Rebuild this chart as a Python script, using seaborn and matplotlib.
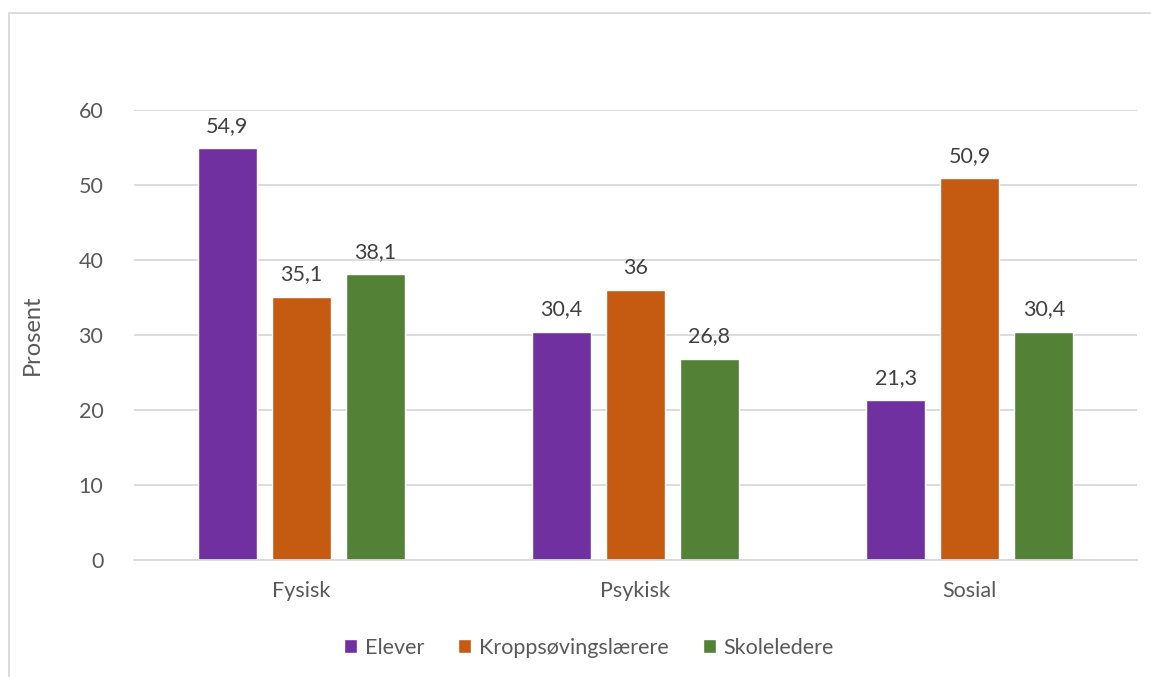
import matplotlib
matplotlib.use("Agg")
import matplotlib.pyplot as plt
from matplotlib.patches import Rectangle
import seaborn as sns
import pandas as pd

categories = ["Fysisk", "Psykisk", "Sosial"]
groups = ["Elever", "Kroppsøvingslærere", "Skoleledere"]
elever = [54.9, 30.4, 21.3]
kroppsovingslaerere = [35.1, 36.0, 50.9]
skoleledere = [38.1, 26.8, 30.4]
yticks = [0, 10, 20, 30, 40, 50, 60]
colors = ["#7030A0", "#C55A11", "#538135"]

rows = []
for g, vals in zip(groups, [elever, kroppsovingslaerere, skoleledere]):
    for c, v in zip(categories, vals):
        rows.append({"Kategori": c, "Gruppe": g, "Prosent": v})
df = pd.DataFrame(rows)

sns.set_theme(style="white")
plt.rcParams['font.family'] = ['Lato', 'DejaVu Sans']

FS = 15.5

fig = plt.figure(figsize=(11.51, 6.77), dpi=100)
ax = fig.add_axes([134/1151, 1-560/677, (1137-134)/1151, 450/677])

sns.barplot(data=df, x="Kategori", y="Prosent", hue="Gruppe",
            order=categories, hue_order=groups, palette=colors,
            width=0.664, gap=0.203, saturation=1, ax=ax, legend=True)

for cont, g in zip(ax.containers, groups):
    labels = [f"{v:g}".replace('.', ',') for v in cont.datavalues]
    ax.bar_label(cont, labels=labels, padding=9, fontsize=FS, color="#404040")

ax.set_ylim(0, 60)
ax.set_yticks(yticks)
ax.set_yticklabels([str(t) for t in yticks])
ax.yaxis.grid(True, color="#D9D9D9", linewidth=1.3)
ax.set_axisbelow(True)
for s in ["top", "right", "left"]:
    ax.spines[s].set_visible(False)
ax.spines["bottom"].set_color("#D9D9D9")
ax.spines["bottom"].set_linewidth(1.3)
ax.tick_params(axis="both", length=0, labelsize=FS, labelcolor="#595959")
ax.tick_params(axis="y", pad=22)
ax.tick_params(axis="x", pad=15)
ax.set_xlabel("")
ax.set_ylabel("Prosent", fontsize=17, color="#595959", labelpad=26)
ax.set_xlim(-0.5, 2.5)

handles, lbls = ax.get_legend_handles_labels()
ax.legend(handles, lbls, loc="center", bbox_to_anchor=((589-134)/1003, -0.195),
          ncol=3, frameon=False, fontsize=FS, labelcolor="#595959",
          handlelength=0.6, handleheight=0.6, handletextpad=0.35,
          columnspacing=1.6)

fig.patches.append(Rectangle((9/1151, -0.1), 1.2, 1 - 13/677 + 0.1,
                             transform=fig.transFigure, fill=False,
                             edgecolor="#D9D9D9", linewidth=1.3))

fig.savefig("out.png", dpi=100, facecolor="white")
